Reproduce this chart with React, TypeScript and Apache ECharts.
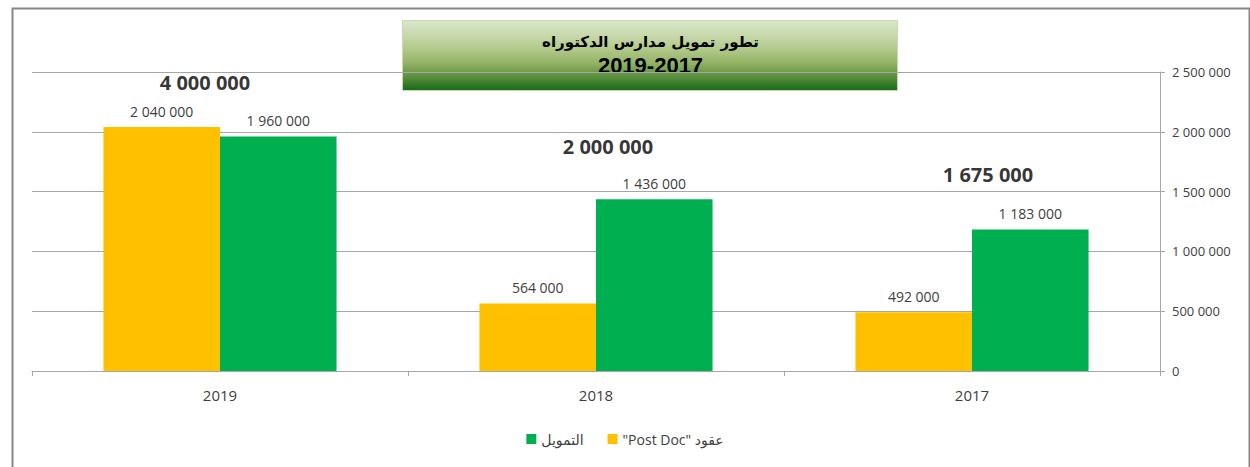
import React, { useEffect, useRef } from "react";
import * as echarts from "echarts";

const categories = ["2019", "2018", "2017"];
const postDocValues = [2040000, 564000, 492000];
const fundingValues = [1960000, 1436000, 1183000];
const totalValues = [4000000, 2000000, 1675000];
const yTicks = { min: 0, max: 2500000, interval: 500000 };
const postDocName = '"Post Doc" عقود';
const fundingName = "التمويل";
const titleLine1 = "تطور تمويل مدارس الدكتوراه";
const titleLine2 = "2019-2017";

const fmt = (v: number) =>
  String(Math.round(v)).replace(/\B(?=(\d{3})+(?!\d))/g, " ");

const totalOffsets: [number, number][] = [
  [-15, -45],
  [12, -53],
  [16, -55],
];

export default function App() {
  const ref = useRef<HTMLDivElement>(null);
  useEffect(() => {
    if (!ref.current) return;
    const chart = echarts.init(ref.current, null, { renderer: "svg" });
    const font = "'Open Sans', 'DejaVu Sans', sans-serif";
    chart.setOption({
      animation: false,
      backgroundColor: "#ffffff",
      textStyle: { fontFamily: font },
      grid: { left: 32, right: 90, top: 72, bottom: 96, containLabel: false },
      legend: {
        bottom: 16,
        left: "center",
        data: [fundingName, postDocName],
        icon: "rect",
        itemWidth: 10,
        itemHeight: 10,
        itemGap: 24,
        textStyle: { fontSize: 14, color: "#404040", fontFamily: font },
      },
      xAxis: {
        type: "category",
        data: categories,
        axisLine: { lineStyle: { color: "#a6a6a6" } },
        axisTick: { show: true, interval: 0, length: 5, lineStyle: { color: "#a6a6a6" } },
        axisLabel: { fontSize: 15, color: "#404040", margin: 16 },
      },
      yAxis: {
        type: "value",
        position: "right",
        min: yTicks.min,
        max: yTicks.max,
        interval: yTicks.interval,
        axisLine: { show: true, lineStyle: { color: "#a6a6a6" } },
        axisTick: { show: true, length: 5, lineStyle: { color: "#a6a6a6" } },
        splitLine: { lineStyle: { color: "#a6a6a6" } },
        axisLabel: { fontSize: 13, color: "#404040", margin: 12, formatter: (v: number) => fmt(v) },
      },
      series: [
        {
          name: postDocName,
          type: "bar",
          data: postDocValues,
          barGap: "0%",
          barCategoryGap: "38%",
          itemStyle: { color: "#FFC000" },
          label: {
            show: true,
            position: "top",
            distance: 9,
            fontSize: 14,
            color: "#404040",
            formatter: (p: any) => fmt(p.value),
          },
        },
        {
          name: fundingName,
          type: "bar",
          data: fundingValues,
          itemStyle: { color: "#00B050" },
          label: {
            show: true,
            position: "top",
            distance: 9,
            fontSize: 14,
            color: "#404040",
            formatter: (p: any) => fmt(p.value),
          },
        },
        {
          name: "totals",
          type: "scatter",
          symbolSize: 0,
          silent: true,
          data: categories.map((c, i) => ({
            value: Math.max(postDocValues[i], fundingValues[i]),
            label: { offset: totalOffsets[i] },
          })),
          label: {
            show: true,
            position: "inside",
            fontSize: 20,
            fontWeight: "bold",
            color: "#000000",
            formatter: (p: any) => fmt(totalValues[p.dataIndex]),
          },
          z: 5,
        },
      ],
      graphic: [
        {
          type: "rect",
          left: 10,
          top: 6,
          shape: { x: 0, y: 0, width: 1237, height: 470 },
          style: { fill: "none", stroke: "#878787", lineWidth: 2 },
          silent: true,
          z: 100,
        },
        {
          type: "group",
          left: 402,
          top: 20,
          z: 100,
          children: [
            {
              type: "rect",
              shape: { x: 0, y: 0, width: 495, height: 70 },
              style: {
                fill: new echarts.graphic.LinearGradient(0, 0, 0, 1, [
                  { offset: 0, color: "#dae6cb" },
                  { offset: 0.2, color: "#c8d9ae" },
                  { offset: 0.4, color: "#b3ca8c" },
                  { offset: 0.6, color: "#95b466" },
                  { offset: 0.8, color: "#5b8f3d" },
                  { offset: 1, color: "#176a17" },
                ]),
                stroke: "#c6dcb0",
                lineWidth: 1,
              },
            },
            {
              type: "text",
              x: 248,
              y: 21,
              style: {
                text: titleLine1,
                align: "center",
                verticalAlign: "middle",
                fontSize: 15,
                fontWeight: "bold",
                fill: "#000000",
                fontFamily: "'DejaVu Sans', Arial, sans-serif",
              },
            },
            {
              type: "text",
              x: 248,
              y: 45,
              style: {
                text: titleLine2,
                align: "center",
                verticalAlign: "middle",
                fontSize: 22,
                fontWeight: "bold",
                fill: "#000000",
                fontFamily: "'Liberation Sans', Arial, sans-serif",
              },
            },
          ],
        },
      ],
    });
    return () => chart.dispose();
  }, []);
  return (
    <div
      ref={ref}
      style={{ position: "fixed", left: 0, top: 0, width: 1250, height: 467 }}
    />
  );
}
